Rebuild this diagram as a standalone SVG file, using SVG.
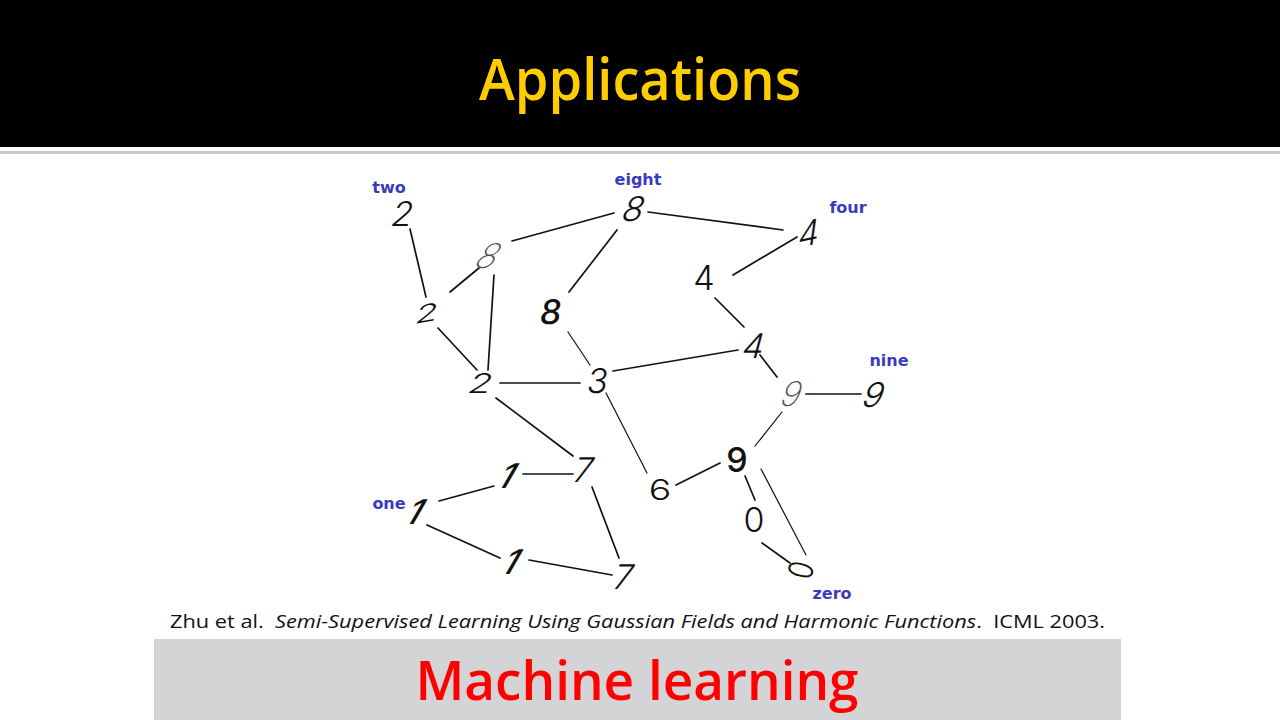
<svg xmlns="http://www.w3.org/2000/svg" width="1280" height="720" viewBox="0 0 1280 720">
<style>
.edge{stroke:#111;stroke-width:1.7;stroke-linecap:round;fill:none}
.thin{stroke-width:1.2}
.dig{font-family:Inter,"Open Sans","DejaVu Sans",sans-serif;font-weight:300;font-size:34px;fill:#111;text-anchor:middle}
.faint{fill:#555;font-weight:200}
.bold{font-weight:500}
.lbl{font-family:"DejaVu Sans",Verdana,sans-serif;font-weight:bold;font-size:16px;fill:#3a3ac0;text-anchor:middle}
</style>
<rect width="1280" height="720" fill="#fff"/>
<rect x="0" y="0" width="1280" height="147" fill="#000"/>
<rect x="0" y="151" width="1280" height="3" fill="#c8c8c8"/>
<text x="640" y="100" font-family="'Open Sans','Noto Sans',sans-serif" font-weight="600" font-size="58" fill="#ffcc00" text-anchor="middle" textLength="322" lengthAdjust="spacingAndGlyphs">Applications</text>

<g id="connectors">
<line class="edge" x1="410" y1="229" x2="426" y2="297"/>
<line class="edge" x1="512" y1="241" x2="614" y2="213"/>
<line class="edge" x1="450" y1="292" x2="479" y2="268"/>
<line class="edge" x1="494" y1="275" x2="488" y2="370"/>
<line class="edge" x1="438" y1="328" x2="477" y2="370"/>
<line class="edge" x1="617" y1="230" x2="569" y2="292"/>
<line class="edge" x1="648" y1="212" x2="783" y2="230"/>
<line class="edge" x1="797" y1="237" x2="733" y2="275"/>
<line class="edge" x1="715" y1="298" x2="744" y2="327"/>
<line class="edge" x1="738" y1="350" x2="613" y2="371"/>
<line class="edge" x1="760" y1="355" x2="777" y2="377"/>
<line class="edge" x1="806" y1="394" x2="861" y2="394"/>
<line class="edge thin" x1="782" y1="412" x2="755" y2="446"/>
<line class="edge thin" x1="568" y1="332" x2="590" y2="365"/>
<line class="edge" x1="500" y1="383" x2="580" y2="383"/>
<line class="edge thin" x1="606" y1="393" x2="647" y2="473"/>
<line class="edge" x1="496" y1="398" x2="573" y2="456"/>
<line class="edge" x1="523" y1="474" x2="573" y2="474"/>
<line class="edge" x1="439" y1="501" x2="494" y2="486"/>
<line class="edge" x1="427" y1="525" x2="500" y2="558"/>
<line class="edge" x1="529" y1="560" x2="612" y2="575"/>
<line class="edge" x1="592" y1="487" x2="619" y2="558"/>
<line class="edge" x1="676" y1="485" x2="720" y2="463"/>
<line class="edge" x1="745" y1="476" x2="755" y2="500"/>
<line class="edge" x1="762" y1="543" x2="790" y2="563"/>
<line class="edge thin" x1="761" y1="469" x2="806" y2="555"/>
</g>

<g id="n-two"><text class="lbl" x="389" y="193">two</text><text class="dig" transform="translate(403,214) skewX(-15)" x="0" y="12">2</text></g>
<g id="n-eight"><text class="lbl" x="638" y="185">eight</text><text class="dig" transform="translate(634,209) skewX(-20)" x="0" y="12">8</text></g>
<g id="n-four"><text class="lbl" x="848" y="213">four</text><text class="dig" transform="translate(809,233) rotate(-12) skewX(-20)" x="0" y="12">4</text></g>
<g id="n-8b"><text class="dig faint" transform="translate(489,256) skewX(-30)" x="0" y="12">8</text></g>
<g id="n-4b"><text class="dig" transform="translate(704,278)" x="0" y="12">4</text></g>
<g id="n-2b"><text class="dig" transform="translate(427,313) rotate(-10) scale(1.1,0.7) skewX(-15)" x="0" y="12">2</text></g>
<g id="n-8c"><text class="dig bold" transform="translate(551,312) skewX(-10)" x="0" y="12">8</text></g>
<g id="n-4c"><text class="dig" transform="translate(754,346) skewX(-15)" x="0" y="12">4</text></g>
<g id="n-nine"><text class="lbl" x="889" y="366">nine</text><text class="dig" transform="translate(874,395) skewX(-20)" x="0" y="12">9</text></g>
<g id="n-2c"><text class="dig" transform="translate(481,383) scale(1.1,0.8) skewX(-15)" x="0" y="12">2</text></g>
<g id="n-3"><text class="dig" transform="translate(598,381) skewX(-10)" x="0" y="12">3</text></g>
<g id="n-9b"><text class="dig faint" transform="translate(792,394) skewX(-20)" x="0" y="12">9</text></g>
<g id="n-9c"><text class="dig bold" transform="translate(737,460)" x="0" y="12">9</text></g>
<g id="n-1a"><text class="dig bold" transform="translate(508,476) skewX(-30)" x="0" y="12">1</text></g>
<g id="n-7a"><text class="dig" transform="translate(584,470) skewX(-15)" x="0" y="12">7</text></g>
<g id="n-one"><text class="lbl" x="389" y="509">one</text><text class="dig bold" transform="translate(416,512) skewX(-30)" x="0" y="12">1</text></g>
<g id="n-6"><text class="dig" transform="translate(660,490) scale(1.1,0.85)" x="0" y="12">6</text></g>
<g id="n-0a"><text class="dig" transform="translate(754,520)" x="0" y="12">0</text></g>
<g id="n-1b"><text class="dig bold" transform="translate(512,562) skewX(-30)" x="0" y="12">1</text></g>
<g id="n-7b"><text class="dig" transform="translate(624,577) skewX(-15)" x="0" y="12">7</text></g>
<g id="n-zero"><text class="lbl" x="832" y="599">zero</text><text class="dig" transform="translate(801,570) rotate(-75) scale(0.8,1)" x="0" y="12">0</text></g>

<text x="170" y="628" font-family="'Open Sans','Noto Sans',sans-serif" font-size="19" fill="#111" textLength="935" lengthAdjust="spacingAndGlyphs">Zhu et al.&#160; <tspan font-style="italic">Semi-Supervised Learning Using Gaussian Fields and Harmonic Functions</tspan>.&#160; ICML 2003.</text>
<rect x="154" y="639" width="967" height="81" fill="#d4d4d6"/>
<text x="637" y="700" font-family="'Open Sans','Noto Sans',sans-serif" font-weight="600" font-size="54" fill="#ff0000" text-anchor="middle" textLength="443" lengthAdjust="spacingAndGlyphs">Machine learning</text>
</svg>
